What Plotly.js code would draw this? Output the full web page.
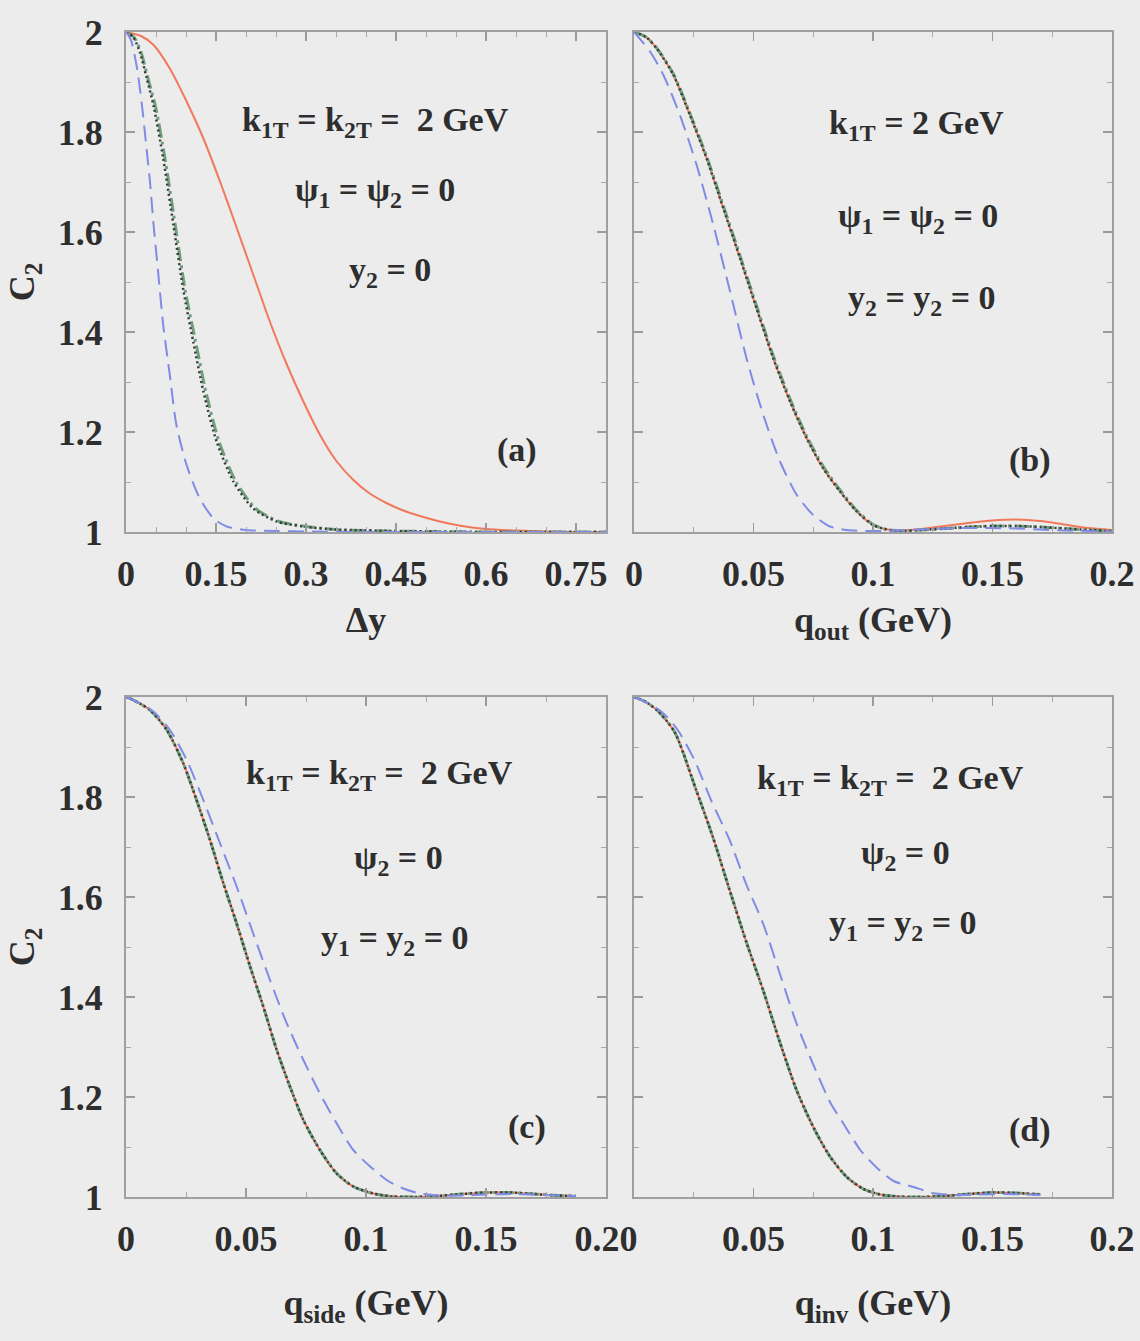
<!DOCTYPE html>
<html>
<head>
<meta charset="utf-8">
<script src="https://cdn.plot.ly/plotly-3.0.1.min.js"></script>
<style>html,body{margin:0;padding:0;background:#ececec;}#chart{width:1140px;height:1341px;}</style>
</head>
<body>
<div id="chart"></div>
<script>
// ---------- Panel (a): C2 vs Δy ----------
const redA_x   = [0,0.025,0.046,0.073,0.101,0.129,0.157,0.184,0.212,0.24,0.268,0.296,0.323,0.35,0.379,0.405,0.434,0.46,0.49,0.523,0.56,0.6,0.65,0.7,0.75,0.8];
const redA_y   = [2,1.992,1.974,1.927,1.861,1.787,1.70,1.61,1.515,1.42,1.335,1.26,1.195,1.143,1.104,1.078,1.058,1.044,1.032,1.021,1.012,1.006,1.003,1.001,1.0,1.0];
const blackA_x = [0,0.012,0.023,0.034,0.046,0.062,0.079,0.096,0.112,0.129,0.151,0.179,0.212,0.251,0.296,0.35,0.4,0.5,0.6,0.7,0.8];
const blackA_y = [2,1.99,1.96,1.91,1.852,1.747,1.614,1.481,1.381,1.281,1.181,1.101,1.047,1.021,1.011,1.005,1.003,1.001,1.0,1.0,1.0];
const greenA_x = [0,0.013,0.025,0.036,0.049,0.065,0.082,0.099,0.116,0.133,0.155,0.183,0.216,0.255,0.3,0.35,0.4,0.5,0.6,0.7,0.8];
const greenA_y = [2,1.99,1.96,1.91,1.852,1.747,1.614,1.481,1.381,1.281,1.181,1.101,1.047,1.021,1.011,1.005,1.003,1.001,1.0,1.0,1.0];
const blueA_x  = [0,0.008,0.018,0.026,0.034,0.04,0.046,0.054,0.062,0.073,0.084,0.101,0.123,0.146,0.168,0.2,0.25,0.3,0.4,0.5,0.6,0.7,0.8];
const blueA_y  = [2,1.985,1.93,1.86,1.77,1.70,1.614,1.514,1.414,1.314,1.214,1.134,1.067,1.027,1.011,1.004,1.002,1.001,1.0,1.0,1.0,1.0,1.0];

// ---------- Panel (b): C2 vs q_out ----------
const solidB_x = [0,0.005,0.0095,0.0165,0.0234,0.0304,0.0374,0.0444,0.0513,0.0583,0.0653,0.0723,0.0792,0.0862,0.0932,0.1,0.105,0.11,0.12,0.13,0.14,0.15,0.16,0.17,0.18,0.19,0.2];
const redB_y   = [2,1.99,1.967,1.914,1.834,1.747,1.647,1.547,1.447,1.347,1.261,1.187,1.127,1.081,1.041,1.014,1.006,1.003,1.006,1.012,1.018,1.023,1.025,1.022,1.015,1.008,1.004];
const blackB_y = [2,1.99,1.967,1.914,1.834,1.747,1.647,1.547,1.447,1.347,1.261,1.187,1.127,1.081,1.041,1.014,1.006,1.002,1.004,1.007,1.010,1.012,1.012,1.010,1.007,1.004,1.002];
const greenB_y = [2,1.99,1.968,1.916,1.837,1.751,1.652,1.552,1.452,1.352,1.266,1.191,1.131,1.084,1.043,1.015,1.006,1.002,1.004,1.007,1.010,1.012,1.012,1.010,1.007,1.004,1.002];
const blueB_x  = [0,0.0067,0.0123,0.0192,0.0262,0.0332,0.0402,0.0471,0.0541,0.0611,0.0681,0.075,0.082,0.089,0.1,0.11,0.12,0.13,0.14,0.15,0.16,0.17,0.18,0.19,0.2];
const blueB_y  = [2,1.961,1.914,1.834,1.734,1.614,1.481,1.347,1.234,1.141,1.074,1.034,1.011,1.004,1.002,1.003,1.005,1.007,1.008,1.008,1.007,1.005,1.003,1.002,1.001];

// ---------- Panel (c): C2 vs q_side ----------
const solidC_x = [0,0.0017,0.01,0.017,0.0239,0.0294,0.035,0.0406,0.0461,0.0517,0.0572,0.0628,0.0683,0.0739,0.0808,0.0878,0.0947,0.103,0.111,0.12,0.13,0.14,0.15,0.16,0.17,0.18,0.1875];
const solidC_y = [2,1.997,1.974,1.934,1.867,1.794,1.714,1.627,1.547,1.461,1.381,1.294,1.221,1.154,1.094,1.047,1.021,1.007,1.001,1.0,1.002,1.006,1.009,1.009,1.006,1.003,1.002];
const blueC_x  = [0,0.003,0.0114,0.0183,0.0253,0.0322,0.0392,0.0461,0.053,0.06,0.067,0.0739,0.0808,0.0878,0.0947,0.1017,0.1086,0.1155,0.1225,0.13,0.14,0.15,0.16,0.17,0.18,0.1875];
const blueC_y  = [2,1.994,1.971,1.934,1.874,1.794,1.707,1.621,1.527,1.434,1.347,1.274,1.207,1.147,1.094,1.061,1.034,1.017,1.007,1.003,1.003,1.005,1.006,1.005,1.003,1.002];

// ---------- Panel (d): C2 vs q_inv ----------
const solidD_x = [0,0.005,0.01,0.017,0.026,0.033,0.04,0.047,0.054,0.061,0.068,0.075,0.082,0.089,0.096,0.103,0.11,0.12,0.13,0.14,0.15,0.16,0.17];
const solidD_y = [2,1.99,1.972,1.93,1.814,1.72,1.614,1.51,1.414,1.31,1.214,1.14,1.081,1.04,1.016,1.005,1.001,1.0,1.002,1.006,1.009,1.008,1.005];
const blueD_x  = [0,0.003,0.0114,0.0183,0.0253,0.0322,0.04,0.047,0.054,0.061,0.068,0.075,0.082,0.0876,0.0947,0.1017,0.1086,0.117,0.125,0.135,0.145,0.155,0.165,0.17];
const blueD_y  = [2,1.994,1.971,1.934,1.874,1.794,1.714,1.625,1.547,1.447,1.347,1.265,1.19,1.147,1.094,1.058,1.032,1.02,1.008,1.004,1.005,1.006,1.005,1.004];

// ---------- labels ----------
const xTitles = ['Δy', 'q<sub>out</sub> (GeV)', 'q<sub>side</sub> (GeV)', 'q<sub>inv</sub> (GeV)'];
const yTitle = 'C<sub>2</sub>';
const xTickValsA = [0,0.15,0.3,0.45,0.6,0.75];
const xTickTextA = ['0','0.15','0.3','0.45','0.6','0.75'];
const xTickValsB = [0,0.05,0.1,0.15,0.2];
const xTickTextB = ['0','0.05','0.1','0.15','0.2'];
const xTickValsC = [0,0.05,0.1,0.15,0.2];
const xTickTextC = ['0','0.05','0.1','0.15','0.20'];
const xTickValsD = [0.05,0.1,0.15,0.2];
const xTickTextD = ['0.05','0.1','0.15','0.2'];
const yTickVals = [1,1.2,1.4,1.6,1.8,2];
const yTickText = ['1','1.2','1.4','1.6','1.8','2'];
const panelText = {
  a: ['k<sub>1T</sub> = k<sub>2T</sub> =  2 GeV', 'ψ<sub>1</sub> = ψ<sub>2</sub> = 0', 'y<sub>2</sub> = 0', '(a)'],
  b: ['k<sub>1T</sub> = 2 GeV', 'ψ<sub>1</sub> = ψ<sub>2</sub> = 0', 'y<sub>2</sub> = y<sub>2</sub> = 0', '(b)'],
  c: ['k<sub>1T</sub> = k<sub>2T</sub> =  2 GeV', 'ψ<sub>2</sub> = 0', 'y<sub>1</sub> = y<sub>2</sub> = 0', '(c)'],
  d: ['k<sub>1T</sub> = k<sub>2T</sub> =  2 GeV', 'ψ<sub>2</sub> = 0', 'y<sub>1</sub> = y<sub>2</sub> = 0', '(d)']
};

// ---------- styles ----------
const RED = '#f2785c', BLUE = '#7f8be6', GREEN = '#6f9f7c', BLACK = '#3a3a3a';
const FONT = 'Liberation Serif, Times New Roman, serif';
const TXT = '#2e2e2e';

function tr(x, y, ax, color, dash, width, name) {
  return {x: x, y: y, xaxis: 'x' + ax, yaxis: 'y' + ax, type: 'scatter', mode: 'lines',
    line: {color: color, dash: dash, width: width, shape: 'spline', smoothing: 0.7},
    name: name, showlegend: false, hoverinfo: 'skip'};
}
const D_BLUE = '16px,8px', D_GREEN = '14px,4px,3px,4px', D_BLACK = '2px,3px';

const traces = [
  tr(redA_x, redA_y, '', RED, 'solid', 2, 'red'),
  tr(greenA_x, greenA_y, '', GREEN, D_GREEN, 3, 'green'),
  tr(blackA_x, blackA_y, '', BLACK, D_BLACK, 2.5, 'black'),
  tr(blueA_x, blueA_y, '', BLUE, D_BLUE, 2, 'blue'),

  tr(solidB_x, redB_y, '2', RED, 'solid', 2, 'red'),
  tr(solidB_x, greenB_y, '2', GREEN, D_GREEN, 3, 'green'),
  tr(solidB_x, blackB_y, '2', BLACK, D_BLACK, 2.5, 'black'),
  tr(blueB_x, blueB_y, '2', BLUE, D_BLUE, 2, 'blue'),

  tr(solidC_x, solidC_y, '3', RED, 'solid', 2, 'red'),
  tr(solidC_x, solidC_y, '3', GREEN, D_GREEN, 3, 'green'),
  tr(solidC_x, solidC_y, '3', BLACK, D_BLACK, 2.5, 'black'),
  tr(blueC_x, blueC_y, '3', BLUE, D_BLUE, 2, 'blue'),

  tr(solidD_x, solidD_y, '4', RED, 'solid', 2, 'red'),
  tr(solidD_x, solidD_y, '4', GREEN, D_GREEN, 3, 'green'),
  tr(solidD_x, solidD_y, '4', BLACK, D_BLACK, 2.5, 'black'),
  tr(blueD_x, blueD_y, '4', BLUE, D_BLUE, 2, 'blue')
];

const W = 1140, H = 1341;
const colL = [126 / W, 606 / W], colR = [634 / W, 1112 / W];
const rowT = [(H - 532) / H, (H - 32) / H], rowB = [(H - 1197) / H, (H - 697) / H];
const TICKFONT = {family: FONT, size: 36, color: TXT, weight: 'bold'};
const TITLEFONT = {family: FONT, size: 36, color: TXT, weight: 'bold'};

function xax(domain, anchor, range, tv, tt, minorDtick, title, standoff) {
  return {
    domain: domain, anchor: anchor, range: range, tickvals: tv, ticktext: tt,
    showline: true, linecolor: '#a0a0a0', linewidth: 2, mirror: 'allticks',
    ticks: 'inside', ticklen: 9, tickwidth: 1.5, tickcolor: '#9a9a9a',
    minor: {dtick: minorDtick, ticks: 'inside', ticklen: 5, tickwidth: 1, tickcolor: '#a8a8a8', showgrid: false},
    showgrid: false, zeroline: false, ticklabelstandoff: 9,
    tickfont: TICKFONT,
    title: {text: title, font: TITLEFONT, standoff: standoff}
  };
}
function yax(domain, anchor, showLabels) {
  return {
    domain: domain, anchor: anchor, range: [1, 2], tickvals: yTickVals, ticktext: yTickText,
    showticklabels: showLabels,
    showline: true, linecolor: '#a0a0a0', linewidth: 2, mirror: 'allticks',
    ticks: 'inside', ticklen: 9, tickwidth: 1.5, tickcolor: '#9a9a9a',
    minor: {dtick: 0.1, ticks: 'inside', ticklen: 5, tickwidth: 1, tickcolor: '#a8a8a8', showgrid: false},
    showgrid: false, zeroline: false, ticklabelstandoff: 14,
    tickfont: TICKFONT,
    title: showLabels ? {text: yTitle, font: TITLEFONT, standoff: 12} : {text: ''}
  };
}

function ann(ax, xd, yd, text) {
  return {xref: 'x' + ax + ' domain', yref: 'y' + ax + ' domain', x: xd, y: yd, text: text,
    showarrow: false, xanchor: 'center', yanchor: 'middle',
    font: {family: FONT, size: 34, color: TXT, weight: 'bold'}};
}

const annotations = [
  ann('', 0.519, 0.82, panelText.a[0]), ann('', 0.519, 0.68, panelText.a[1]), ann('', 0.55, 0.52, panelText.a[2]), ann('', 0.815, 0.164, panelText.a[3]),
  ann('2', 0.592, 0.814, panelText.b[0]), ann('2', 0.594, 0.628, panelText.b[1]), ann('2', 0.603, 0.464, panelText.b[2]), ann('2', 0.828, 0.144, panelText.b[3]),
  ann('3', 0.529, 0.844, panelText.c[0]), ann('3', 0.567, 0.674, panelText.c[1]), ann('3', 0.56, 0.514, panelText.c[2]), ann('3', 0.835, 0.14, panelText.c[3]),
  ann('4', 0.536, 0.834, panelText.d[0]), ann('4', 0.567, 0.684, panelText.d[1]), ann('4', 0.563, 0.544, panelText.d[2]), ann('4', 0.828, 0.134, panelText.d[3])
];

const layout = {
  width: W, height: H,
  margin: {l: 0, r: 0, t: 0, b: 0},
  paper_bgcolor: '#ececec', plot_bgcolor: '#ececec',
  showlegend: false,
  font: {family: FONT, color: TXT},
  xaxis:  xax(colL, 'y',  [0, 0.8], xTickValsA, xTickTextA, 0.05, xTitles[0], 14),
  yaxis:  yax(rowT, 'x', true),
  xaxis2: xax(colR, 'y2', [0, 0.2], xTickValsB, xTickTextB, 0.025, xTitles[1], 14),
  yaxis2: yax(rowT, 'x2', false),
  xaxis3: xax(colL, 'y3', [0, 0.2], xTickValsC, xTickTextC, 0.025, xTitles[2], 32),
  yaxis3: yax(rowB, 'x3', true),
  xaxis4: xax(colR, 'y4', [0, 0.2], xTickValsD, xTickTextD, 0.025, xTitles[3], 32),
  yaxis4: yax(rowB, 'x4', false),
  annotations: annotations
};

Plotly.newPlot('chart', traces, layout, {staticPlot: true, displayModeBar: false});
</script>
</body>
</html>
